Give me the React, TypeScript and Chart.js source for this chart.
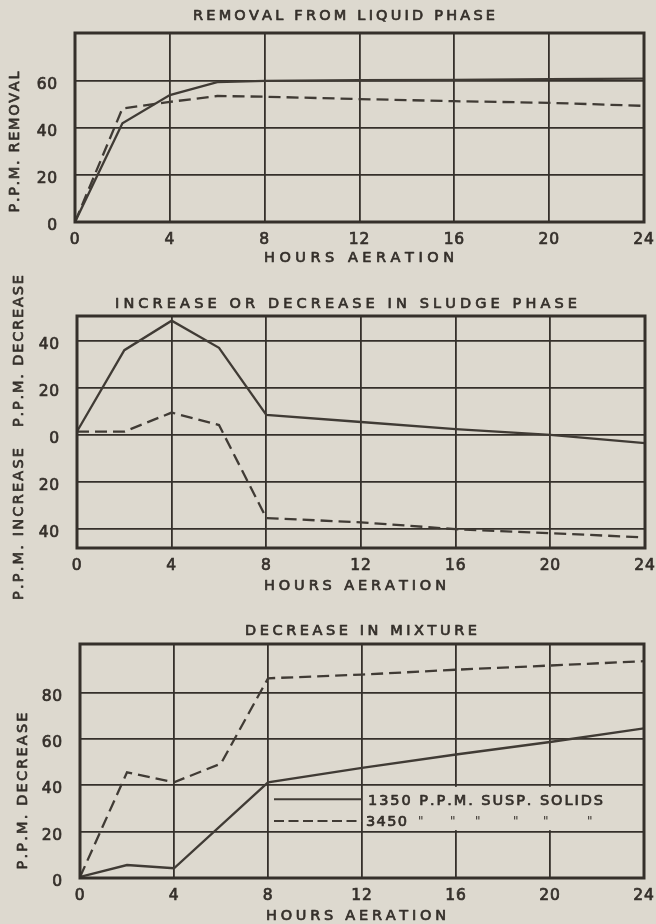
import React, { useEffect, useRef } from 'react';
import { Chart, registerables } from 'chart.js';

Chart.register(...registerables);

const FONT = "'DejaVu Sans', 'Liberation Sans', sans-serif";
const BG = '#ddd9cf';
const INK = '#35302b';
const LINE = '#403b35';

// ---------- data ----------
const HOURS = [0, 2, 4, 6, 8, 12, 16, 20, 24];
const HOURS_MIX_1350 = [0, 2, 4, 8, 12, 16, 20, 24];
const X_TICKS = [0, 4, 8, 12, 16, 20, 24];

const LIQUID_1350 = [0, 42, 54, 59.5, 60, 60.3, 60.5, 60.8, 61];
const LIQUID_3450 = [0, 48.3, 51.1, 53.6, 53.3, 52.3, 51.4, 50.7, 49.4];
const SLUDGE_1350 = [1.5, 36, 48.5, 37, 8.5, 5.5, 2.5, 0, -3.5];
const SLUDGE_3450 = [1.4, 1.4, 9.5, 4.2, -35.3, -37.1, -40, -41.7, -43.5];
const MIXTURE_1350 = [0.5, 5.6, 4.2, 41.3, 47.5, 53.3, 58.7, 64.6];
const MIXTURE_3450 = [0.4, 45.6, 41.3, 49.4, 86.2, 87.8, 89.9, 91.7, 93.6];

const Y_TICKS_LIQUID = [0, 20, 40, 60];
const Y_TICKS_SLUDGE = [-40, -20, 0, 20, 40];
const Y_TICKS_MIXTURE = [0, 20, 40, 60, 80];

const SERIES_1350 = '1350 P.P.M. SUSP. SOLIDS';
const SERIES_3450 = '3450';
const DITTO = '"';
const DITTO_OFFSETS = [52, 84, 109, 147, 177, 221];

// ---------- layout (page coordinates) ----------
type TextSpec = { text: string; x: number; y: number; w: number };
type PanelSpec = {
  key: string;
  top: number;
  height: number;
  area: { l: number; r: number; t: number; b: number };
  yMin: number;
  yMax: number;
  yTicks: number[];
  s1x: number[];
  s1y: number[];
  s2x: number[];
  s2y: number[];
  title: TextSpec;
  xTitle: TextSpec;
  yTitles: TextSpec[];
  legend: boolean;
};

const PANELS: PanelSpec[] = [
  {
    key: 'liquid',
    top: 0,
    height: 280,
    area: { l: 75, r: 644, t: 33, b: 222 },
    yMin: 0,
    yMax: 80.4,
    yTicks: Y_TICKS_LIQUID,
    s1x: HOURS,
    s1y: LIQUID_1350,
    s2x: HOURS,
    s2y: LIQUID_3450,
    title: { text: 'REMOVAL FROM LIQUID PHASE', x: 344, y: 15, w: 302 },
    xTitle: { text: 'HOURS AERATION', x: 359, y: 257, w: 190 },
    yTitles: [{ text: 'P.P.M. REMOVAL', x: 14, y: 142, w: 141 }],
    legend: false,
  },
  {
    key: 'sludge',
    top: 255,
    height: 345,
    area: { l: 77, r: 645, t: 316, b: 548 },
    yMin: -48,
    yMax: 50.5,
    yTicks: Y_TICKS_SLUDGE,
    s1x: HOURS,
    s1y: SLUDGE_1350,
    s2x: HOURS,
    s2y: SLUDGE_3450,
    title: { text: 'INCREASE OR DECREASE IN SLUDGE PHASE', x: 346, y: 303, w: 462 },
    xTitle: { text: 'HOURS AERATION', x: 355, y: 585, w: 182 },
    yTitles: [
      { text: 'P.P.M. INCREASE', x: 18, y: 524, w: 152 },
      { text: 'P.P.M. DECREASE', x: 18, y: 351, w: 152 },
    ],
    legend: false,
  },
  {
    key: 'mixture',
    top: 600,
    height: 324,
    area: { l: 80, r: 644, t: 644, b: 878 },
    yMin: 0,
    yMax: 101,
    yTicks: Y_TICKS_MIXTURE,
    s1x: HOURS_MIX_1350,
    s1y: MIXTURE_1350,
    s2x: HOURS,
    s2y: MIXTURE_3450,
    title: { text: 'DECREASE IN MIXTURE', x: 361, y: 630, w: 232 },
    xTitle: { text: 'HOURS AERATION', x: 356, y: 915, w: 180 },
    yTitles: [{ text: 'P.P.M. DECREASE', x: 22, y: 791, w: 157 }],
    legend: true,
  },
];

const X_SCALE_H = 40;
const TEXT_STROKE = 0.7;

// ---------- text helpers ----------
function drawSpaced(
  ctx: CanvasRenderingContext2D,
  text: string,
  startX: number,
  cy: number,
  width: number,
  fontPx: number,
  stroke = true
) {
  ctx.save();
  ctx.font = `${fontPx}px ${FONT}`;
  try {
    (ctx as any).letterSpacing = '0px';
  } catch (e) {}
  const chars = Array.from(text);
  const widths = chars.map((c) => ctx.measureText(c).width);
  const total = widths.reduce((a, b) => a + b, 0);
  const gap = chars.length > 1 ? (width - total) / (chars.length - 1) : 0;
  ctx.textAlign = 'left';
  ctx.textBaseline = 'alphabetic';
  ctx.fillStyle = INK;
  ctx.strokeStyle = INK;
  ctx.lineWidth = TEXT_STROKE;
  ctx.lineJoin = 'round';
  let x = startX;
  const baseY = cy + fontPx * 0.365;
  chars.forEach((c, i) => {
    ctx.fillText(c, x, baseY);
    if (stroke) ctx.strokeText(c, x, baseY);
    x += widths[i] + gap;
  });
  ctx.restore();
}

function drawCentered(ctx: CanvasRenderingContext2D, t: TextSpec, offY: number, fontPx: number, rotate = false) {
  if (!rotate) {
    drawSpaced(ctx, t.text, t.x - t.w / 2, t.y - offY, t.w, fontPx);
  } else {
    ctx.save();
    ctx.translate(t.x, t.y - offY);
    ctx.rotate(-Math.PI / 2);
    drawSpaced(ctx, t.text, -t.w / 2, 0, t.w, fontPx);
    ctx.restore();
  }
}

function makeFramePlugin(p: PanelSpec) {
  return {
    id: 'frame_' + p.key,
    beforeDraw(chart: any) {
      try {
        chart.ctx.letterSpacing = '0.8px';
      } catch (e) {}
    },
    afterDraw(chart: any) {
      const ctx: CanvasRenderingContext2D = chart.ctx;
      const ca = chart.chartArea;
      const xs = chart.scales.x;
      const ys = chart.scales.y;

      if (p.legend) {
        const x8 = xs.getPixelForValue(8);
        const x12 = xs.getPixelForValue(12);
        const y40 = ys.getPixelForValue(40);
        const y20 = ys.getPixelForValue(20);
        ctx.save();
        ctx.fillStyle = BG;
        ctx.fillRect(x12 + 1.5, y40 + 1.5, ca.right - x12 - 3, y20 - y40 - 3);
        const row1 = y40 + (y20 - y40) * 0.3;
        const row2 = y40 + (y20 - y40) * 0.77;
        ctx.strokeStyle = LINE;
        ctx.lineWidth = 2.2;
        ctx.beginPath();
        ctx.moveTo(x8 + 6, row1);
        ctx.lineTo(x12, row1);
        ctx.stroke();
        ctx.setLineDash([10, 4.5]);
        ctx.beginPath();
        ctx.moveTo(x8 + 6, row2);
        ctx.lineTo(x12, row2);
        ctx.stroke();
        ctx.restore();
        drawSpaced(ctx, SERIES_1350, x12 + 6, row1, 235, 14.5);
        const start2 = x12 + 4;
        drawSpaced(ctx, SERIES_3450, start2, row2, 41, 14.5);
        DITTO_OFFSETS.forEach((o) => drawSpaced(ctx, DITTO, start2 + o, row2, 4, 12, false));
      }

      // frame
      ctx.save();
      ctx.strokeStyle = INK;
      ctx.lineWidth = 3;
      ctx.strokeRect(ca.left, ca.top, ca.right - ca.left, ca.bottom - ca.top);
      ctx.restore();

      // titles
      const off = p.top;
      drawCentered(ctx, p.title, off, 14.5);
      drawCentered(ctx, p.xTitle, off, 14.5);
      p.yTitles.forEach((t) => drawCentered(ctx, t, off, 14.5, true));
    },
  };
}

function makeConfig(p: PanelSpec): any {
  const W = 656;
  return {
    type: 'line',
    data: {
      datasets: [
        {
          label: SERIES_1350,
          data: p.s1x.map((x, i) => ({ x, y: p.s1y[i] })),
          borderColor: LINE,
          borderWidth: 2.3,
          pointRadius: 0,
          tension: 0,
          fill: false,
        },
        {
          label: SERIES_3450,
          data: p.s2x.map((x, i) => ({ x, y: p.s2y[i] })),
          borderColor: LINE,
          borderWidth: 2.3,
          borderDash: [12, 6],
          pointRadius: 0,
          tension: 0,
          fill: false,
        },
      ],
    },
    options: {
      animation: false,
      responsive: false,
      maintainAspectRatio: false,
      layout: {
        padding: {
          left: 0,
          right: W - p.area.r,
          top: p.area.t - p.top,
          bottom: p.top + p.height - p.area.b - X_SCALE_H,
        },
      },
      plugins: {
        legend: { display: false },
        tooltip: { enabled: false },
        title: { display: false },
      },
      scales: {
        x: {
          type: 'linear',
          min: 0,
          max: 24,
          afterBuildTicks: (s: any) => {
            s.ticks = X_TICKS.map((v) => ({ value: v }));
          },
          afterFit: (s: any) => {
            s.height = X_SCALE_H;
            s.paddingLeft = 0;
            s.paddingRight = 0;
          },
          grid: { color: INK, lineWidth: 1.8, drawTicks: false },
          border: { display: false },
          ticks: {
            color: INK,
            textStrokeColor: INK,
            textStrokeWidth: TEXT_STROKE,
            font: { family: FONT, size: 15.5 },
            padding: 9,
            maxRotation: 0,
            autoSkip: false,
            callback: (v: number) => String(v),
          },
        },
        y: {
          type: 'linear',
          min: p.yMin,
          max: p.yMax,
          afterBuildTicks: (s: any) => {
            s.ticks = p.yTicks.map((v) => ({ value: v }));
          },
          afterFit: (s: any) => {
            s.width = p.area.l;
            s.paddingTop = 0;
            s.paddingBottom = 0;
          },
          grid: { color: INK, lineWidth: 1.8, drawTicks: false },
          border: { display: false },
          ticks: {
            color: INK,
            textStrokeColor: INK,
            textStrokeWidth: TEXT_STROKE,
            font: { family: FONT, size: 15.5 },
            padding: 17,
            labelOffset: 4,
            autoSkip: false,
            callback: (v: number) => String(Math.abs(v)),
          },
        },
      },
    },
    plugins: [makeFramePlugin(p)],
  };
}

function Panel({ panel }: { panel: PanelSpec }) {
  const ref = useRef<HTMLCanvasElement>(null);
  useEffect(() => {
    const chart = new Chart(ref.current as HTMLCanvasElement, makeConfig(panel));
    return () => chart.destroy();
  }, [panel]);
  return (
    <canvas
      ref={ref}
      width={656}
      height={panel.height}
      style={{ position: 'absolute', left: 0, top: panel.top, width: 656, height: panel.height }}
    />
  );
}

export default function App() {
  useEffect(() => {
    document.body.style.margin = '0';
    document.body.style.background = BG;
  }, []);
  return (
    <div
      style={{
        position: 'absolute',
        left: 0,
        top: 0,
        width: 656,
        height: 924,
        background: BG,
        overflow: 'hidden',
      }}
    >
      {PANELS.map((p) => (
        <Panel key={p.key} panel={p} />
      ))}
    </div>
  );
}
